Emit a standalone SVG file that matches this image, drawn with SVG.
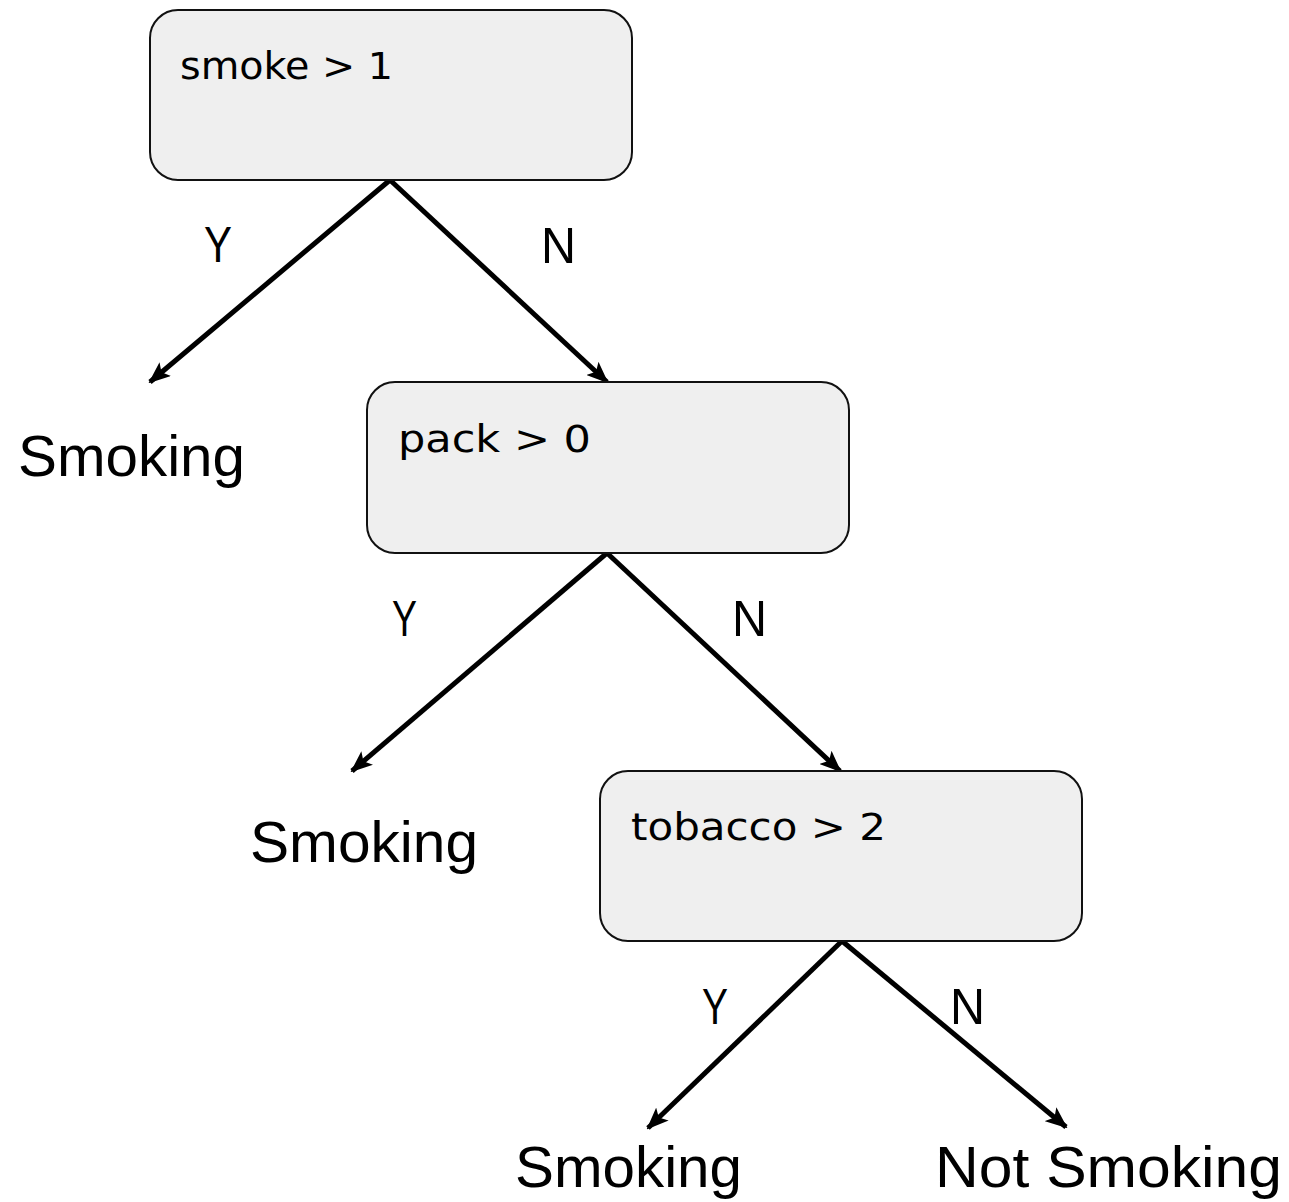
<svg xmlns="http://www.w3.org/2000/svg" width="1289" height="1202" viewBox="0 0 1289 1202">
<style>
.box{fill:#efefef;stroke:#111;stroke-width:2}
.cond{font-family:"DejaVu Sans","Liberation Sans",sans-serif;font-size:37px;fill:#000}
.lbl{font-family:"Liberation Sans",Arial,sans-serif;font-size:50px;fill:#000}
.leaf{font-family:"Liberation Sans",Arial,sans-serif;font-size:58px;fill:#000}
.edge{stroke:#000;stroke-width:5;fill:none;marker-end:url(#ah)}
</style>
<defs>
<marker id="ah" markerUnits="userSpaceOnUse" markerWidth="22" markerHeight="18" viewBox="0 0 22 18" refX="20" refY="9" orient="auto">
<path d="M0,0 L22,9 L0,18 L5,9 Z" fill="#000"/>
</marker>
</defs>
<rect width="1289" height="1202" fill="#fff"/>
<g id="connectors">
<line class="edge" x1="390" y1="180" x2="150" y2="382"/>
<line class="edge" x1="390" y1="180" x2="607" y2="382"/>
<line class="edge" x1="607" y1="553" x2="352" y2="771"/>
<line class="edge" x1="607" y1="553" x2="840" y2="771"/>
<line class="edge" x1="842" y1="941" x2="648" y2="1128"/>
<line class="edge" x1="842" y1="941" x2="1066" y2="1127"/>
</g>
<g id="node-smoke">
<rect class="box" x="150" y="10" width="482" height="170" rx="28"/>
<text class="cond" x="180" y="79" textLength="213" lengthAdjust="spacingAndGlyphs">smoke &gt; 1</text>
</g>
<g id="node-pack">
<rect class="box" x="367" y="382" width="482" height="171" rx="28"/>
<text class="cond" x="398" y="452" textLength="193" lengthAdjust="spacingAndGlyphs">pack &gt; 0</text>
</g>
<g id="node-tobacco">
<rect class="box" x="600" y="771" width="482" height="170" rx="28"/>
<text class="cond" x="631" y="840" textLength="255" lengthAdjust="spacingAndGlyphs">tobacco &gt; 2</text>
</g>
<g id="labels">
<text class="lbl" x="204" y="262" textLength="28" lengthAdjust="spacingAndGlyphs">Y</text>
<text class="lbl" x="541" y="263" textLength="35" lengthAdjust="spacingAndGlyphs">N</text>
<text class="lbl" x="392" y="636" textLength="25" lengthAdjust="spacingAndGlyphs">Y</text>
<text class="lbl" x="732" y="636" textLength="35" lengthAdjust="spacingAndGlyphs">N</text>
<text class="lbl" x="702" y="1024" textLength="26" lengthAdjust="spacingAndGlyphs">Y</text>
<text class="lbl" x="950" y="1024" textLength="35" lengthAdjust="spacingAndGlyphs">N</text>
</g>
<g id="leaf-1"><text class="leaf" x="18" y="476" textLength="227" lengthAdjust="spacingAndGlyphs">Smoking</text></g>
<g id="leaf-2"><text class="leaf" x="250" y="862" textLength="228" lengthAdjust="spacingAndGlyphs">Smoking</text></g>
<g id="leaf-3"><text class="leaf" x="515" y="1187" textLength="227" lengthAdjust="spacingAndGlyphs">Smoking</text></g>
<g id="leaf-4"><text class="leaf" x="935" y="1187" textLength="347" lengthAdjust="spacingAndGlyphs">Not Smoking</text></g>
</svg>
